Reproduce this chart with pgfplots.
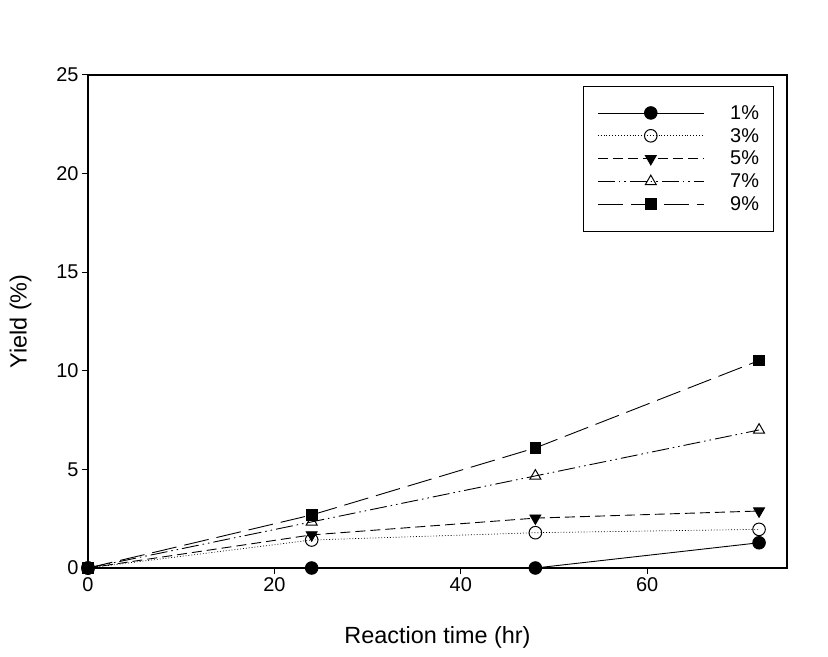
\documentclass[border=0pt]{standalone}
\usepackage{fontspec}
\setmainfont{Liberation Sans}
\usepackage{pgfplots}
\pgfplotsset{compat=1.18}

\begin{document}
\begin{tikzpicture}[x=1bp,y=1bp]
\begin{axis}[
  name=main,
  scale only axis,
  width=699bp,
  height=493bp,
  xmin=0, xmax=75,
  ymin=0, ymax=25,
  xtick={0,20,40,60},
  ytick={0,5,10,15,20,25},
  tick pos=left,
  tick align=outside,
  major tick length=6bp,
  /pgf/number format/assume math mode=true,
  tick label style={font=\fontsize{20}{23}\selectfont},
  label style={font=\fontsize{23.5}{27}\selectfont},
  xlabel={Reaction time (hr)},
  ylabel={Yield (\%)},
  xlabel style={yshift=-28bp},
  ylabel style={yshift=18bp},
  axis line style={line width=1.2bp},
  every tick/.style={line width=1bp,black},
  every axis plot/.append style={black,line width=0.9bp,mark size=6.3bp},
  legend style={at={(0.708,0.978)},anchor=north west,draw=black,line width=0.9bp,
    font=\fontsize{20}{23}\selectfont,row sep=3.5bp,inner xsep=14bp,inner ysep=17bp},
  legend cell align=left,
  legend image code/.code={
    \draw[#1,mark repeat=2,mark phase=2] plot coordinates {(0bp,0bp) (53bp,0bp) (106bp,0bp)};
  },
  legend style={nodes={inner xsep=0pt}},
  legend columns=1,
]
\addplot[solid,mark=*,mark options={solid,fill=black}] coordinates {
  (0,0) (24,0) (48,0) (72,1.28)
};
\addlegendentry{\hspace{26bp}1\%}
\addplot[dotted,line width=0.7bp,mark=o,mark options={solid,fill=white,line width=1bp}] coordinates {
  (0,0) (24,1.42) (48,1.79) (72,1.96)
};
\addlegendentry{\hspace{26bp}3\%}
\addplot[dash pattern=on 10bp off 5bp,mark=triangle*,mark options={solid,rotate=180,fill=black}] coordinates {
  (0,0) (24,1.68) (48,2.53) (72,2.89)
};
\addlegendentry{\hspace{26bp}5\%}
\addplot[dash pattern=on 17bp off 4bp on 1.5bp off 4bp on 1.5bp off 4bp,mark=triangle,mark options={solid,fill=white,line width=1bp}] coordinates {
  (0,0) (24,2.34) (48,4.67) (72,7.0)
};
\addlegendentry{\hspace{26bp}7\%}
\addplot[dash pattern=on 25bp off 8bp,mark=square*,mark options={solid,fill=black,scale=0.85}] coordinates {
  (0,0) (24,2.69) (48,6.09) (72,10.52)
};
\addlegendentry{\hspace{26bp}9\%}
\end{axis}
\path ([xshift=-88bp,yshift=-88bp]main.south west) rectangle ([xshift=41bp,yshift=75bp]main.north east);
\end{tikzpicture}
\end{document}
